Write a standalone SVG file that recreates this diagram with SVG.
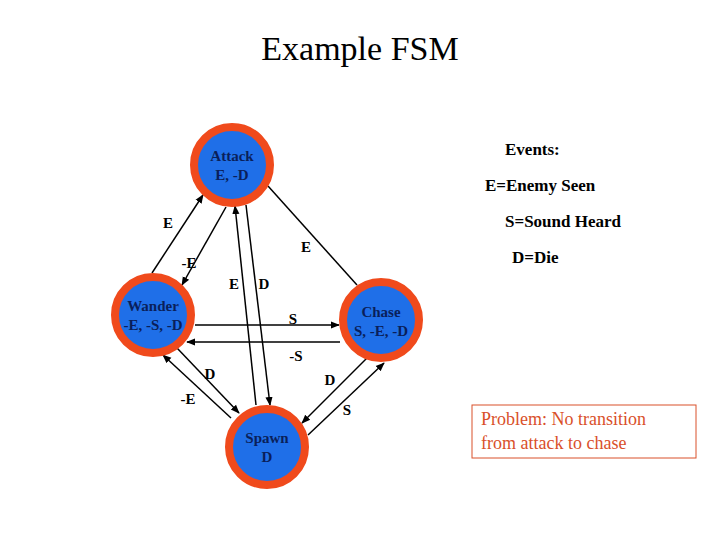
<svg xmlns="http://www.w3.org/2000/svg" width="720" height="540" viewBox="0 0 720 540">
<style>
.st circle{fill:#1f6fe8;stroke:#f04a1c;stroke-width:8}
.st text{font-family:"Liberation Serif","DejaVu Serif",serif;font-weight:bold;font-size:15px;fill:#0a1f5a;text-anchor:middle}
.lb{font-family:"Liberation Serif","DejaVu Serif",serif;font-weight:bold;font-size:15px;fill:#000;text-anchor:middle}
.c line{stroke:#000;stroke-width:1.5}
.ev{font-family:"Liberation Serif","DejaVu Serif",serif;font-weight:bold;font-size:17px;fill:#000}
</style>
<defs><marker id="a" viewBox="0 0 10 10" refX="9" refY="5" markerWidth="6" markerHeight="6" orient="auto"><path d="M0,1L10,5L0,9z" fill="#000"/></marker></defs>
<rect width="720" height="540" fill="#fff"/>
<text x="360" y="60" font-family="Liberation Serif,serif" font-size="34" text-anchor="middle">Example FSM</text>
<g class="c">
<line x1="152" y1="273" x2="203" y2="195" marker-end="url(#a)"/>
<line x1="226" y1="207" x2="182" y2="285" marker-end="url(#a)"/>
<line x1="256" y1="405" x2="235" y2="206" marker-end="url(#a)"/>
<line x1="246" y1="205" x2="270" y2="405" marker-end="url(#a)"/>
<line x1="357" y1="285" x2="268" y2="186"/>
<line x1="195" y1="325" x2="339" y2="325" marker-end="url(#a)"/>
<line x1="340" y1="342" x2="187" y2="342" marker-end="url(#a)"/>
<line x1="177" y1="348" x2="239" y2="413" marker-end="url(#a)"/>
<line x1="231" y1="418" x2="163" y2="355" marker-end="url(#a)"/>
<line x1="367" y1="358" x2="302" y2="423" marker-end="url(#a)"/>
<line x1="308" y1="435" x2="384" y2="363" marker-end="url(#a)"/>
<text class="lb" x="168" y="228">E</text>
<text class="lb" x="189" y="268">-E</text>
<text class="lb" x="234" y="289">E</text>
<text class="lb" x="264" y="289">D</text>
<text class="lb" x="306" y="252">E</text>
<text class="lb" x="293" y="324" font-weight="normal">S</text>
<text class="lb" x="296" y="361">-S</text>
<text class="lb" x="210" y="379">D</text>
<text class="lb" x="188" y="404">-E</text>
<text class="lb" x="330" y="385">D</text>
<text class="lb" x="347" y="415" font-weight="normal">S</text>
</g>
<g id="attack" class="st"><circle cx="232" cy="165" r="38"/><text x="232" y="161">Attack</text><text x="232" y="180">E, -D</text></g>
<g id="wander" class="st"><circle cx="153" cy="315" r="38"/><text x="153" y="311">Wander</text><text x="153" y="330">-E, -S, -D</text></g>
<g id="chase" class="st"><circle cx="381" cy="320" r="38"/><text x="381" y="317">Chase</text><text x="381" y="336">S, -E, -D</text></g>
<g id="spawn" class="st"><circle cx="267" cy="447" r="38"/><text x="267" y="443">Spawn</text><text x="267" y="462">D</text></g>
<text class="ev" x="505" y="155">Events:</text>
<text class="ev" x="485" y="191">E=Enemy Seen</text>
<text class="ev" x="505" y="227">S=Sound Heard</text>
<text class="ev" x="512" y="263">D=Die</text>
<rect x="472" y="405" width="224" height="53" fill="none" stroke="#d9502a" stroke-width="1"/>
<text x="481" y="425" font-family="Liberation Serif,serif" font-size="18" fill="#d9502a">Problem: No transition</text>
<text x="481" y="449" font-family="Liberation Serif,serif" font-size="18" fill="#d9502a">from attack to chase</text>
</svg>
